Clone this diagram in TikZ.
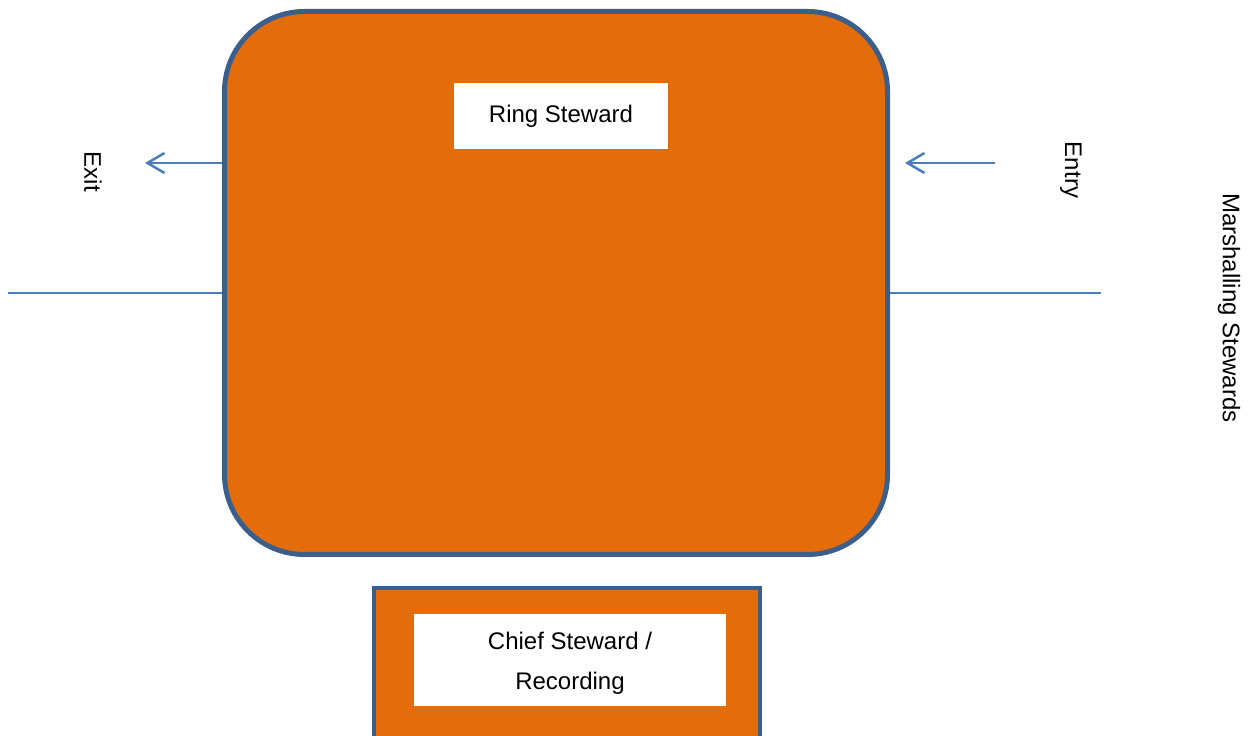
\documentclass[tikz,border=0pt]{standalone}
\usepackage{fontspec}
\setmainfont{Liberation Sans}
\usetikzlibrary{arrows.meta}
\definecolor{ringorange}{HTML}{E46C0A}
\definecolor{ringedge}{HTML}{3A5F8C}
\definecolor{lineblue}{HTML}{4A7EBB}
\begin{document}
\begin{tikzpicture}[x=1pt,y=1pt,
    ringbox/.style={draw=ringedge,line width=5pt,fill=ringorange,rounded corners=80pt,minimum width=663pt,minimum height=543pt},
    deskbox/.style={draw=ringedge,line width=4pt,fill=ringorange,minimum width=386pt,minimum height=172pt},
    tag/.style={fill=white,inner sep=0pt,align=center,font=\fontsize{24}{40}\selectfont},
    label/.style={font=\fontsize{24}{29}\selectfont,inner sep=0pt},
    flow/.style={draw=lineblue,line width=1.5pt,-{Straight Barb[length=17pt,width=20pt,line width=2.5pt]}}]
    \useasboundingbox (0,0) rectangle (1253,736);

    \node[ringbox] (ring) at (556,453) {};
    \node[deskbox] (desk) at (567,62) {};

    \node[tag,minimum width=214pt,minimum height=66pt] (steward) at (561,620) {Ring Steward};
    \node[tag,minimum width=312pt,minimum height=92pt,text height=64pt,text depth=5pt] (chief) at (570,76) {Chief Steward /\\Recording};

    % exit and entry
    \coordinate (exitend) at (145,573);
    \coordinate (entrystart) at (995,573);
    \coordinate (entryend) at (905,573);
    \draw[flow] (ring.west |- exitend) -- (exitend);
    \draw[flow] (entrystart) -- (entryend);

    \node[label,rotate=-90] (exit) at (93,564) {Exit};
    \node[label,rotate=-90] (entry) at (1071,566) {Entry};
    \node[label,rotate=-90] (marshal) at (1229,428) {Marshalling Stewards};

    % ring side lines
    \coordinate (leftend) at (8,443);
    \coordinate (rightend) at (1101,443);
    \draw[lineblue,line width=1.5pt] (leftend) -- (ring.west |- leftend);
    \draw[lineblue,line width=1.5pt] (ring.east |- rightend) -- (rightend);
\end{tikzpicture}
\end{document}
